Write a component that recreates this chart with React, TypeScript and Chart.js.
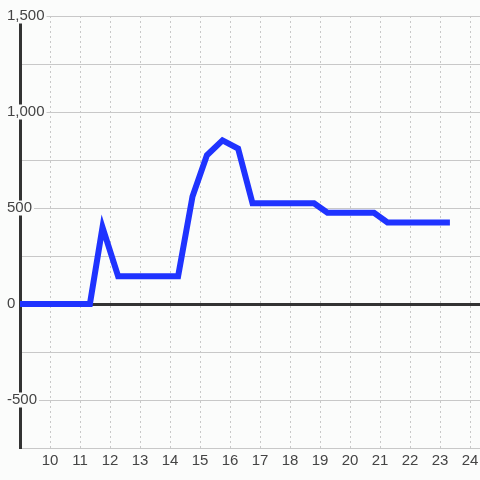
import React, { useEffect, useRef } from "react";
import { Chart, registerables } from "chart.js";

Chart.register(...registerables);

const xValues = [9, 11.33, 11.75, 12.27, 14.27, 14.75, 15.23, 15.75, 16.27, 16.75, 18.8, 19.25, 20.8, 21.25, 23.33];
const yValues = [0, 0, 400, 145, 145, 560, 775, 852, 810, 525, 525, 475, 475, 425, 425];
const xTickValues = [10, 11, 12, 13, 14, 15, 16, 17, 18, 19, 20, 21, 22, 23, 24];
const yTickValues = [-750, -500, -250, 0, 250, 500, 750, 1000, 1250, 1500];
const yLabelValues = [-500, 0, 500, 1000, 1500];

const BG = "#fbfcfb";
const FONT = "'Liberation Sans', Arial, sans-serif";

export default function App() {
  const ref = useRef<HTMLCanvasElement | null>(null);
  useEffect(() => {
    if (!ref.current) return;
    const bgPlugin = {
      id: "bg",
      beforeDraw(chart: any) {
        const c = chart.ctx;
        c.save();
        c.fillStyle = BG;
        c.fillRect(0, 0, chart.width, chart.height);
        c.restore();
      },
    };
    const chart = new Chart(ref.current, {
      type: "line",
      data: {
        datasets: [
          {
            data: xValues.map((x, i) => ({ x, y: yValues[i] })),
            borderColor: "#1f33ff",
            borderWidth: 6,
            pointRadius: 0,
            tension: 0,
            fill: false,
          },
        ],
      },
      options: {
        animation: false,
        responsive: false,
        layout: { padding: { top: 16, left: 0, right: 0, bottom: 0 } },
        plugins: { legend: { display: false }, tooltip: { enabled: false } },
        scales: {
          x: {
            type: "linear",
            min: 9,
            max: 24.333,
            afterBuildTicks: (s: any) => {
              s.ticks = xTickValues.map((v) => ({ value: v }));
            },
            afterFit: (s: any) => {
              s.height = 32;
              s.paddingLeft = 0;
              s.paddingRight = 0;
            },
            grid: {
              color: "#c8c8c8",
              lineWidth: 1,
              drawTicks: false,
            },
            border: { display: false, dash: [2, 3] },
            ticks: {
              color: "#444",
              padding: 4,
              font: { family: FONT, size: 15 },
              callback: (v: any) => String(v),
              maxRotation: 0,
              autoSkip: false,
            },
          },
          y: {
            type: "linear",
            min: -750,
            max: 1500,
            afterBuildTicks: (s: any) => {
              s.ticks = yTickValues.map((v) => ({ value: v }));
            },
            afterFit: (s: any) => {
              s.width = 20;
            },
            grid: {
              color: (ctx: any) => (ctx.tick && ctx.tick.value === 0 ? "#333" : "#c8c8c8"),
              lineWidth: (ctx: any) => (ctx.tick && ctx.tick.value === 0 ? 3 : 1),
              drawTicks: false,
            },
            border: { display: true, color: "#333", width: 3 },
            ticks: {
              mirror: true,
              padding: -13,
              color: "#444",
              font: { family: FONT, size: 15, lineHeight: 1 },
              showLabelBackdrop: true,
              backdropColor: BG,
              backdropPadding: { left: 1, right: 2, top: 0, bottom: 0 },
              autoSkip: false,
              callback: (v: any) =>
                yLabelValues.includes(Number(v)) ? Number(v).toLocaleString("en-US") : "",
            },
          },
        },
      },
      plugins: [bgPlugin],
    } as any);
    return () => chart.destroy();
  }, []);
  return (
    <div style={{ position: "fixed", left: 0, top: 0, width: 480, height: 480 }}>
      <canvas ref={ref} width={480} height={480} style={{ display: "block" }} />
    </div>
  );
}
